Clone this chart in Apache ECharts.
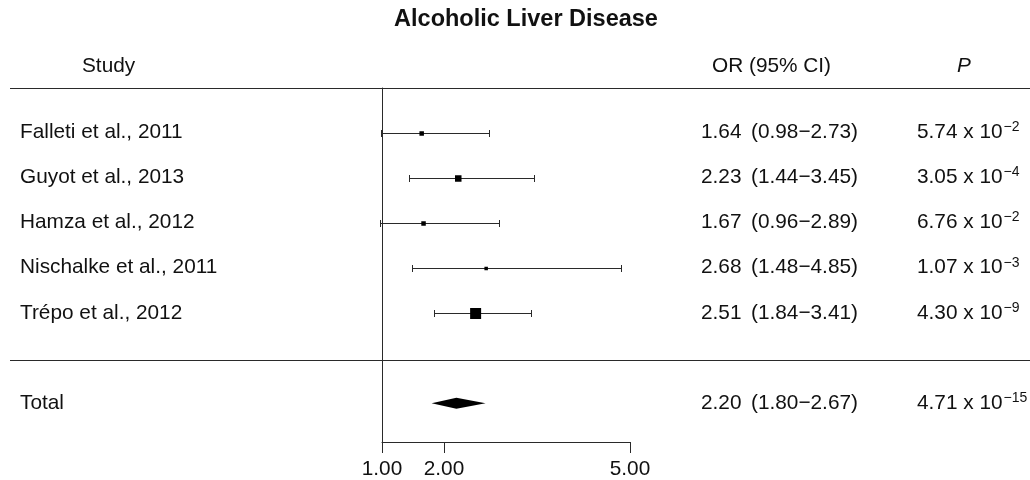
<!DOCTYPE html>
<html><head><meta charset="utf-8">
<script src="https://cdn.jsdelivr.net/npm/echarts@6/dist/echarts.min.js"></script>
<style>html,body{margin:0;padding:0;background:#fff}#c{width:1030px;height:480px}</style>
</head><body><div id="c"></div>
<script>
// ---- data ----
const studies = ['Falleti et al., 2011', 'Guyot et al., 2013', 'Hamza et al., 2012', 'Nischalke et al., 2011', 'Trépo et al., 2012'];
const orValues = [1.64, 2.23, 1.67, 2.68, 2.51];
const ciLow = [0.98, 1.44, 0.96, 1.48, 1.84];
const ciHigh = [2.73, 3.45, 2.89, 4.85, 3.41];
const pMantissa = ['5.74', '3.05', '6.76', '1.07', '4.30'];
const pExponent = [-2, -4, -2, -3, -9];
const weights = [4.5, 6.5, 4.5, 3.5, 11];   // relative study weights (box size)
const totalName = 'Total';
const totalOR = [2.20];
const totalLow = [1.80];
const totalHigh = [2.67];
const totalPMantissa = ['4.71'];
const totalPExponent = [-15];
const xTickValues = [1, 2, 5];
const headers = ['Study', 'OR (95% CI)', 'P'];
const chartTitle = 'Alcoholic Liver Disease';

// ---- layout / style ----
const FONT = '"Liberation Sans", Arial, Helvetica, sans-serif';
const FS = 20.8;
const TXT = '#111';
const LINE = '#2a2a2a';
const TOTAL_ROW = 6;
const fmt = v => v.toFixed(2);
const ciText = (lo, hi) => '(' + fmt(lo) + '\u2212' + fmt(hi) + ')';
const pText = (m, e) => '{m|' + m + ' x 10}{s|\u2212' + Math.abs(e) + '}';
const crisp = v => Math.round(v) + 0.5;

const studyRows = studies.map((s, i) => i);

const chart = echarts.init(document.getElementById('c'), null, {renderer: 'canvas'});

function textSeries(items, extraLabel) {
  return {
    type: 'scatter', xAxisIndex: 1, yAxisIndex: 1, symbolSize: 0, silent: true, clip: false,
    itemStyle: {opacity: 1},
    emphasis: {disabled: true},
    data: items,
    label: Object.assign({
      show: true, position: 'right', distance: 0, offset: [0, -1.5],
      formatter: p => p.name, fontSize: FS, fontFamily: FONT, color: TXT, opacity: 1
    }, extraLabel || {})
  };
}

const colStudy = 20, colOR = 701, colCI = 751, colP = 917;

const option = {
  animation: false,
  backgroundColor: '#fff',
  grid: [
    {left: 382, top: 88, width: 248, height: 356},
    {left: 10, top: 88, width: 1020, height: 356}
  ],
  xAxis: [
    {
      gridIndex: 0, type: 'value', min: 1, max: 5, position: 'bottom',
      axisLine: {show: true, onZero: false, lineStyle: {color: LINE, width: 1}},
      axisTick: {show: true, customValues: xTickValues, length: 11, lineStyle: {color: LINE}},
      axisLabel: {show: true, customValues: xTickValues, formatter: v => fmt(v), fontSize: FS, fontFamily: FONT, color: TXT, margin: 17},
      splitLine: {show: false}
    },
    {gridIndex: 1, type: 'value', min: 10, max: 1030, show: false}
  ],
  yAxis: [
    {
      gridIndex: 0, type: 'value', inverse: true, min: -1, max: 6.86,
      axisLine: {show: true, onZero: false, lineStyle: {color: LINE, width: 1}},
      axisTick: {show: false}, axisLabel: {show: false}, splitLine: {show: false}
    },
    {gridIndex: 1, type: 'value', inverse: true, min: -1, max: 6.86, show: false}
  ],
  graphic: [
    {type: 'text', x: 526, y: 19.5, style: {text: chartTitle, fontSize: 23.5, fontWeight: 'bold', fontFamily: FONT, fill: TXT, align: 'center', verticalAlign: 'middle'}},
    {type: 'text', x: 82, y: 66, style: {text: headers[0], fontSize: FS, fontFamily: FONT, fill: TXT, align: 'left', verticalAlign: 'middle'}},
    {type: 'text', x: 712, y: 66, style: {text: headers[1], fontSize: FS, fontFamily: FONT, fill: TXT, align: 'left', verticalAlign: 'middle'}},
    {type: 'text', x: 964, y: 66, style: {text: headers[2], fontSize: FS, fontStyle: 'italic', fontFamily: FONT, fill: TXT, align: 'center', verticalAlign: 'middle'}}
  ],
  series: [
    // study CIs and boxes
    {
      type: 'custom', xAxisIndex: 0, yAxisIndex: 0, clip: false, silent: true,
      encode: {x: [1, 2, 3], y: 0},
      data: studyRows.map(i => [i, orValues[i], ciLow[i], ciHigh[i], weights[i]]),
      renderItem: function (params, api) {
        const y = api.value(0);
        const pLo = api.coord([api.value(2), y]);
        const pHi = api.coord([api.value(3), y]);
        const pOr = api.coord([api.value(1), y]);
        const s = api.value(4);
        const cap = 3.5;
        const yc = crisp(pLo[1]);
        const xl = crisp(pLo[0]), xh = crisp(pHi[0]);
        const ls = {stroke: LINE, lineWidth: 1};
        return {type: 'group', children: [
          {type: 'line', shape: {x1: xl, y1: yc, x2: xh, y2: yc}, style: ls},
          {type: 'line', shape: {x1: xl, y1: yc - cap, x2: xl, y2: yc + cap}, style: ls},
          {type: 'line', shape: {x1: xh, y1: yc - cap, x2: xh, y2: yc + cap}, style: ls},
          {type: 'rect', shape: {x: pOr[0] - s / 2, y: yc - s / 2, width: s, height: s}, style: {fill: '#000'}}
        ]};
      }
    },
    // total diamond
    {
      type: 'custom', xAxisIndex: 0, yAxisIndex: 0, clip: false, silent: true,
      encode: {x: [1, 2, 3], y: 0},
      data: totalOR.map((v, i) => [TOTAL_ROW, v, totalLow[i], totalHigh[i]]),
      renderItem: function (params, api) {
        const y = api.value(0);
        const pLo = api.coord([api.value(2), y]);
        const pHi = api.coord([api.value(3), y]);
        const pOr = api.coord([api.value(1), y]);
        const h = 5.5;
        return {type: 'polygon', shape: {points: [[pLo[0], pLo[1]], [pOr[0], pOr[1] - h], [pHi[0], pHi[1]], [pOr[0], pOr[1] + h]]}, style: {fill: '#000'}};
      }
    },
    // separator lines
    {
      type: 'line', xAxisIndex: 1, yAxisIndex: 1, data: [], silent: true,
      markLine: {
        silent: true, symbol: 'none', animation: false,
        label: {show: false},
        lineStyle: {color: LINE, width: 1, type: 'solid'},
        data: [{yAxis: -1}, {yAxis: 5}]
      }
    },
    // study names
    textSeries(studyRows.map(i => ({name: studies[i], value: [colStudy, i]})).concat([{name: totalName, value: [colStudy, TOTAL_ROW]}])),
    // OR values
    textSeries(studyRows.map(i => ({name: fmt(orValues[i]), value: [colOR, i]})).concat(totalOR.map(v => ({name: fmt(v), value: [colOR, TOTAL_ROW]})))),
    // CI
    textSeries(studyRows.map(i => ({name: ciText(ciLow[i], ciHigh[i]), value: [colCI, i]})).concat(totalLow.map((v, k) => ({name: ciText(v, totalHigh[k]), value: [colCI, TOTAL_ROW]})))),
    // P values
    textSeries(
      studyRows.map(i => ({name: pText(pMantissa[i], pExponent[i]), value: [colP, i]}))
        .concat(totalPMantissa.map((m, k) => ({name: pText(m, totalPExponent[k]), value: [colP, TOTAL_ROW]}))),
      {rich: {
        m: {fontSize: FS, fontFamily: FONT, color: TXT, lineHeight: 24, verticalAlign: 'middle'},
        s: {fontSize: 14, fontFamily: FONT, color: TXT, lineHeight: 15, verticalAlign: 'top', padding: [0, 0, 0, 1]}
      }}
    )
  ]
};
chart.setOption(option);
</script>
</body></html>
